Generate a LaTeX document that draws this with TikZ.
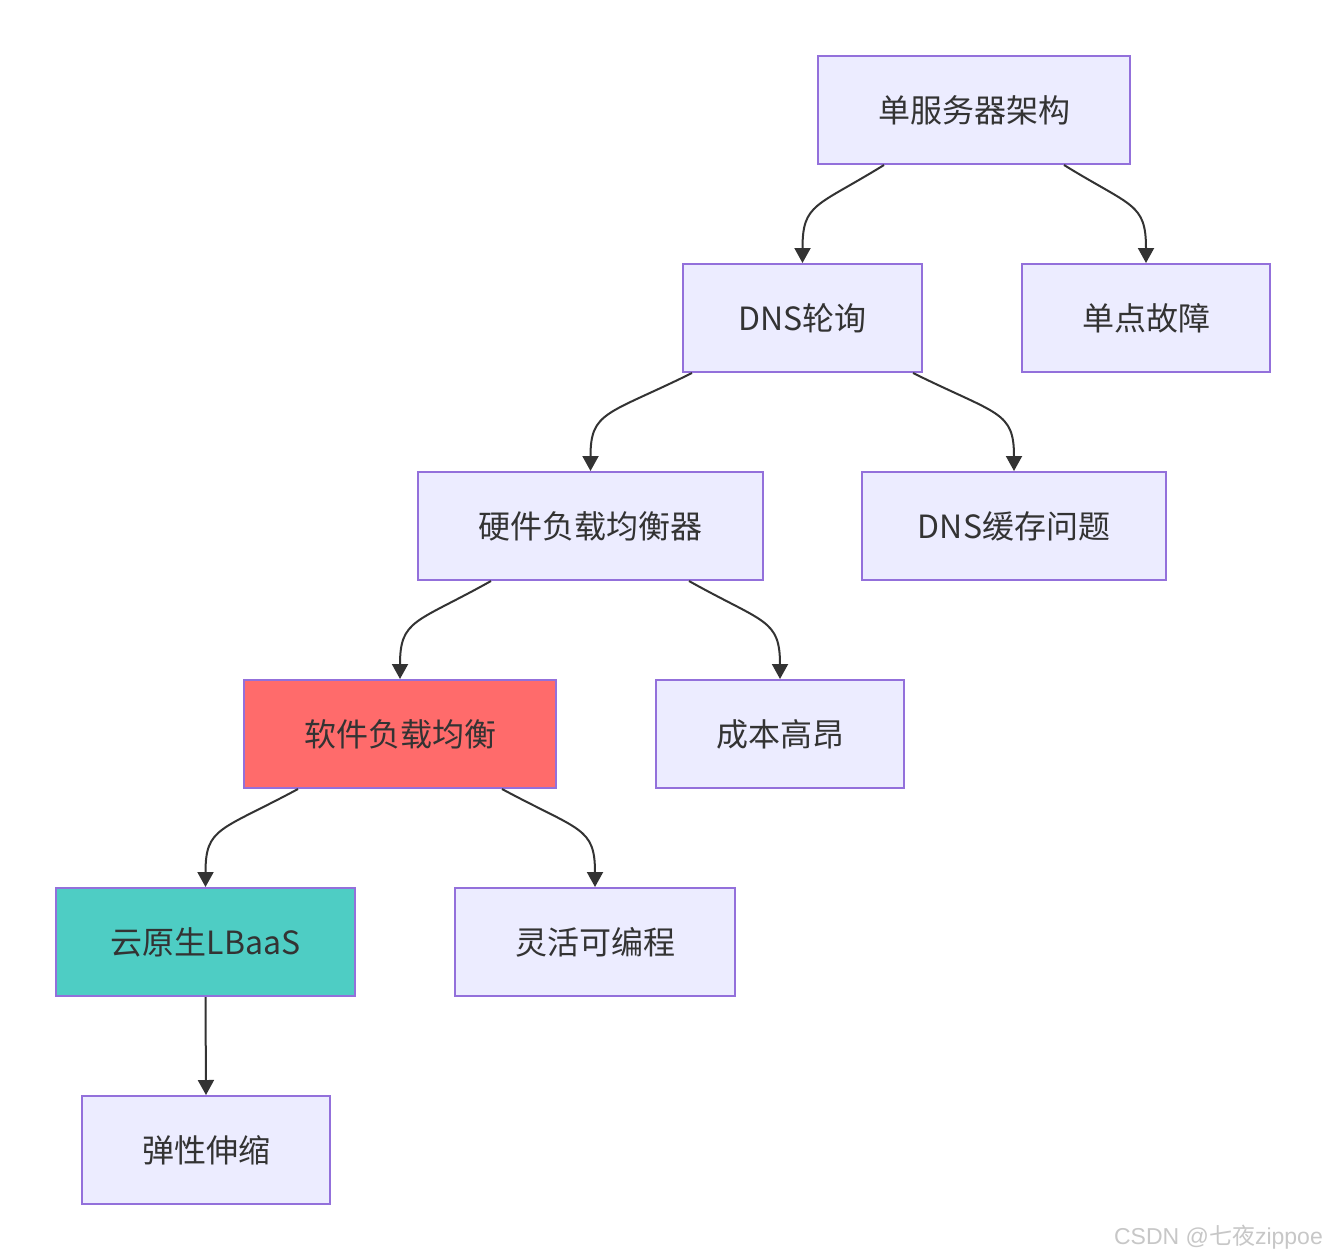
\documentclass[tikz,border=0pt]{standalone}
\usepackage{fontspec}
\setmainfont{Noto Sans CJK SC}
\newfontfamily\wmcjk{Noto Sans CJK SC}
\newfontfamily\wmlat{Liberation Sans}
\usetikzlibrary{arrows.meta}
\definecolor{nodefill}{HTML}{ECECFF}
\definecolor{nodeline}{HTML}{9370DB}
\definecolor{txt}{HTML}{333333}
\definecolor{redfill}{HTML}{FF6B6B}
\definecolor{tealfill}{HTML}{4ECDC4}
\begin{document}
\begin{tikzpicture}[x=1pt,y=-1pt,
  box/.style={draw=nodeline,fill=nodefill,line width=2pt,inner sep=0pt,
    text=txt,font=\fontsize{32}{36}\selectfont,anchor=center},
  edge/.style={draw=txt,line width=2pt,-{Triangle[length=15pt,width=16pt]}}]
\useasboundingbox (0,0) rectangle (1326,1259);
\fill[white] (0,0) rectangle (1326,1259);
\node[box,minimum width=312pt,minimum height=108pt] (A) at (974,110) {单服务器架构};
\node[box,minimum width=239pt,minimum height=108pt] (B) at (802.5,318) {DNS轮询};
\node[box,minimum width=248pt,minimum height=108pt] (C) at (1146,318) {单点故障};
\node[box,minimum width=345pt,minimum height=108pt] (D) at (590.5,526) {硬件负载均衡器};
\node[box,minimum width=304pt,minimum height=108pt] (E) at (1014,526) {DNS缓存问题};
\node[box,fill=redfill,minimum width=312pt,minimum height=108pt] (F) at (400,734) {软件负载均衡};
\node[box,minimum width=248pt,minimum height=108pt] (G) at (780,734) {成本高昂};
\node[box,fill=tealfill,minimum width=299pt,minimum height=108pt] (H) at (205.5,942) {云原生LBaaS};
\node[box,minimum width=280pt,minimum height=108pt] (I) at (595,942) {灵活可编程};
\node[box,minimum width=248pt,minimum height=108pt] (J) at (206,1150) {弹性伸缩};
\draw[edge] ([xshift=-90pt]A.south) .. controls +(-68,42) and +(0,-60) .. (B.north);
\draw[edge] ([xshift=90pt]A.south) .. controls +(68,42) and +(0,-60) .. (C.north);
\draw[edge] ([xshift=-110.5pt]B.south) .. controls +(-85,42) and +(0,-60) .. (D.north);
\draw[edge] ([xshift=110.5pt]B.south) .. controls +(85,42) and +(0,-60) .. (E.north);
\draw[edge] ([xshift=-99.5pt]D.south) .. controls +(-75,42) and +(0,-60) .. (F.north);
\draw[edge] ([xshift=98.5pt]D.south) .. controls +(75,42) and +(0,-60) .. (G.north);
\draw[edge] ([xshift=-102pt]F.south) .. controls +(-78,42) and +(0,-60) .. (H.north);
\draw[edge] ([xshift=102pt]F.south) .. controls +(78,42) and +(0,-60) .. (I.north);
\draw[edge] (H.south) -- (J.north);
\node[text=black!22,font=\fontsize{23}{26}\selectfont,anchor=east,inner sep=0pt] (W) at (1323,1237) {\wmlat CSDN @\wmcjk 七夜\wmlat zippoe};
\end{tikzpicture}
\end{document}
